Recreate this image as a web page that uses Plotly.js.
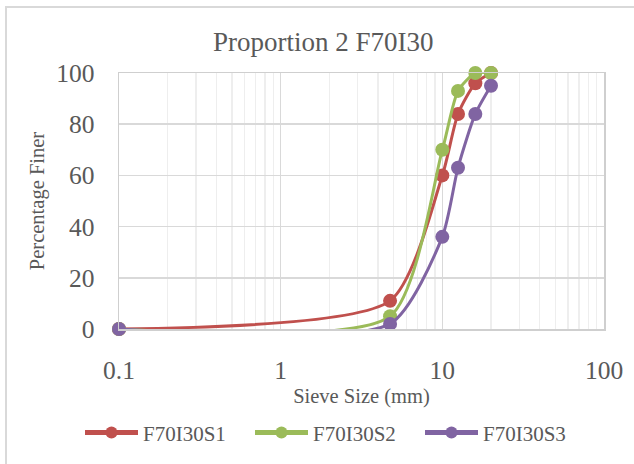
<!DOCTYPE html>
<html>
<head>
<meta charset="utf-8">
<script src="https://cdn.plot.ly/plotly-3.0.1.min.js"></script>
<style>
  html, body { margin: 0; padding: 0; background: #ffffff; overflow: hidden; }
  #wrap { position: relative; width: 634px; height: 464px; }
  #chart { position: absolute; left: 0; top: 0; width: 634px; height: 464px; }
  #frame { position: absolute; left: 5px; top: 6px; width: 700px; height: 600px;
           border: 2px solid #d9d9d9; pointer-events: none; box-sizing: border-box; }
</style>
</head>
<body>
<div id="wrap">
  <div id="chart"></div>
  <div id="frame"></div>
</div>
<script>
// Sieve sizes (mm)
const sieveSizes = [0.1, 4.75, 10, 12.5, 16, 20];
// Percentage finer for each sample
const seriesNames = ["F70I30S1", "F70I30S2", "F70I30S3"];
const s1Values = [0, 11, 60, 84, 96, 100];
const s2Values = [0, 5, 70, 93, 100, 100];
const s3Values = [0, 2, 36, 63, 84, 95];
const xTickValues = [0.1, 1, 10, 100];
const xTickLabels = ["0.1", "1", "10", "100"];
const yTickValues = [0, 20, 40, 60, 80, 100];

const colors = ["#C0504D", "#9BBB59", "#8064A2"];
const allValues = [s1Values, s2Values, s3Values];

const traces = allValues.map((vals, i) => ({
  type: "scatter",
  mode: "lines+markers",
  name: seriesNames[i],
  x: sieveSizes,
  y: vals,
  line: { color: colors[i], width: 3, shape: "spline", smoothing: 0.65 },
  marker: { color: colors[i], size: 14 },
  cliponaxis: false
}));

const font = "Liberation Serif";
const gray = "#595959";

const layout = {
  width: 634,
  height: 464,
  margin: { l: 119, r: 30, t: 73, b: 134, pad: 0 },
  paper_bgcolor: "rgba(0,0,0,0)",
  plot_bgcolor: "#ffffff",
  font: { family: font, color: gray },
  title: {
    text: "Proportion 2 F70I30",
    font: { family: font, size: 27, color: gray },
    x: 0.51, xref: "container", xanchor: "center",
    y: 0.91, yref: "container", yanchor: "middle"
  },
  xaxis: {
    type: "log",
    range: [-1, 2],
    tickvals: xTickValues,
    ticktext: xTickLabels,
    tickfont: { family: font, size: 25.5, color: gray },
    ticks: "",
    ticklabelstandoff: 18,
    showgrid: true,
    gridcolor: "#d9d9d9",
    gridwidth: 1.5,
    minor: { showgrid: true, gridcolor: "#eeeeee", gridwidth: 1.3, dtick: "D1" },
    showline: true, mirror: true, linecolor: "#cfcfcf", linewidth: 1.5,
    zeroline: false,
    title: { text: "Sieve Size (mm)", font: { family: font, size: 20.5, color: gray }, standoff: 3 }
  },
  yaxis: {
    range: [0, 100],
    tickvals: yTickValues,
    tickfont: { family: font, size: 25.5, color: gray },
    ticks: "",
    ticklabelstandoff: 18,
    showgrid: true,
    gridcolor: "#d9d9d9",
    gridwidth: 1.5,
    showline: true, mirror: true, linecolor: "#cfcfcf", linewidth: 1.5,
    zeroline: false,
    title: { text: "Percentage Finer", font: { family: font, size: 20.5, color: gray }, standoff: 6 }
  },
  showlegend: true,
  legend: {
    orientation: "h",
    xref: "paper", yref: "paper",
    x: (80 - 119) / 485, xanchor: "left",
    y: (330 - 433) / 257.3, yanchor: "middle",
    itemwidth: 53,
    entrywidth: 102,
    itemsizing: "constant",
    font: { family: font, size: 21, color: gray },
    bgcolor: "rgba(0,0,0,0)"
  }
};

Plotly.newPlot("chart", traces, layout, { displayModeBar: false, staticPlot: true });
</script>
</body>
</html>
